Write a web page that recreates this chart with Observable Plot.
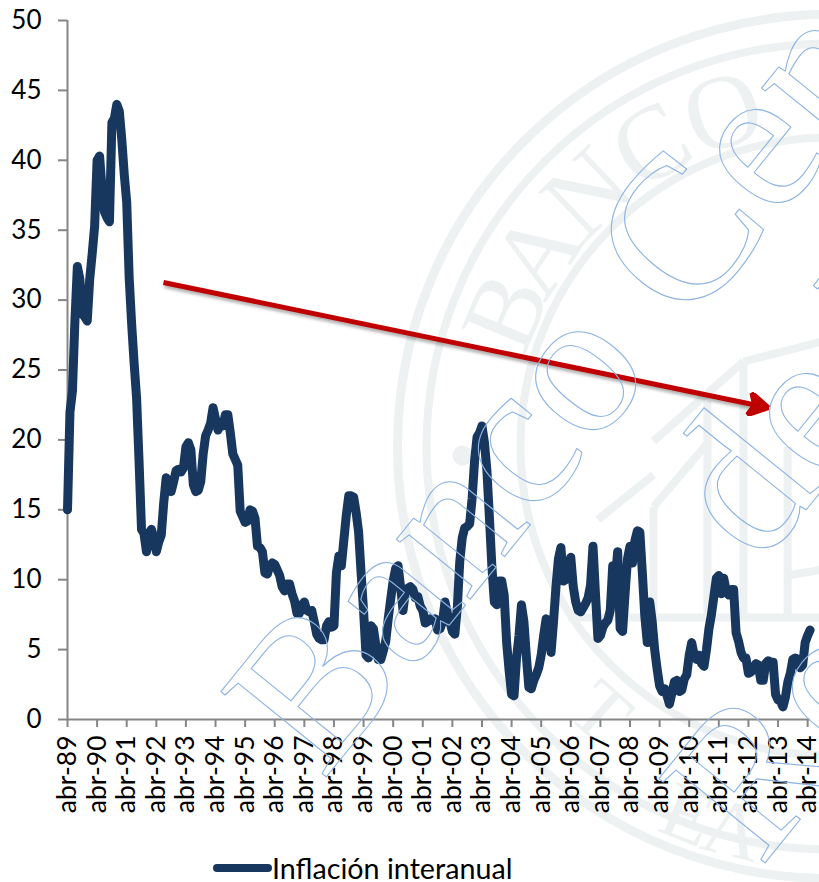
<!DOCTYPE html>
<html lang="es">
<head>
<meta charset="utf-8">
<script src="https://cdn.jsdelivr.net/npm/d3@7"></script>
<script src="https://cdn.jsdelivr.net/npm/@observablehq/plot@0.6"></script>
<style>
  html, body { margin: 0; padding: 0; background: #fff; overflow: hidden; }
  #chart { width: 819px; height: 882px; position: relative; overflow: hidden; }
  #legend { position: absolute; left: 213px; top: 850px; display: flex; align-items: center;
            font: 28.7px Lato, sans-serif; color: #000; line-height: 36px; }
  #legend .swatch { display: inline-block; width: 59px; height: 8px; border-radius: 4px; background: #17375E; }
</style>
</head>
<body>
<div id="chart"></div>
<script>
const seriesName = "Inflación interanual";
const tickYears = ["89","90","91","92","93","94","95","96","97","98","99","00","01","02","03","04","05","06","07","08","09","10","11","12","13","14"];
const tickLabels = tickYears.map(y => "abr-" + y);
const yTicks = [0,5,10,15,20,25,30,35,40,45,50];

// Inflación interanual, monthly from April 1989
const inflation = [
  15,22,23.5,28.5,32.4,31.5,29,28.8,28.5,31.5,33.3,35.3,
  40,40.3,38,36.3,35.9,35.6,42.7,43,44,43.5,41.5,39,
  37,31.6,28.3,25.5,23,18.5,13.6,13.3,12,13,13.6,13,
  12,12.7,13.2,15.5,17.3,16.8,16.3,17,17.8,17.9,17.7,18,
  19.5,19.8,19.3,16.8,16.3,16.4,17,19,20.3,20.7,21.2,22.3,
  21.5,20.7,21.2,21,21.8,21.8,20.5,19,18.6,18.2,14.9,14.5,
  14.1,14.2,15,14.9,14.4,12.4,12.3,12,10.5,10.4,11,11.2,
  11.1,10.7,10.3,9.5,9.2,9.7,9.7,9,8.5,7.6,7.6,8.2,
  8.4,7.8,7.7,7.8,7,6.1,5.8,5.7,5.7,6.7,7,6.6,
  6.7,10.5,11.7,11,12.8,14.6,16,16,15.9,14.8,13.4,10.5,
  7.8,4.6,4.4,6.7,6.5,5.3,4.3,4.3,4.9,5.6,7.2,8.6,
  9.9,10.8,11,9.5,7.8,9.2,9.4,9.5,9.3,8.7,8.8,8.1,
  7.8,6.9,7,7.2,7.1,7.2,6.4,6.5,7,8.4,7.6,7,
  6.3,6.1,8,11.3,13,13.7,13.8,14,15.8,18.5,20.2,20.5,
  21,19.8,17.8,14.5,11,8.4,8.2,9.9,9.9,8.9,5.5,3.5,
  1.8,1.7,4.4,6,8.2,7,4.5,2.3,2.2,2.8,3.2,3.7,
  4.6,6,7.2,7,4.8,7,9.5,11.5,12.3,9.9,10,11,
  11.6,9.5,8.4,7.8,7.7,8,8.3,8.7,9.6,12.4,9,5.8,
  6,6.6,6.9,7.1,7.8,11,10,12,6.5,6.3,9,11.5,
  12.4,11.2,12.8,13.5,13.4,10.5,7.4,5.5,8.4,7,5,3.6,
  2.4,2,2.2,1.7,1.1,1.9,2.7,2.8,2,2.1,2.9,3.2,
  4.6,5.5,4.6,4.3,4.6,4,3.8,5,6.5,7.5,8.8,10.1,
  10.3,9,10.1,9.2,8.9,9.3,9.3,6.2,5.6,4.8,4.4,4.4,
  3.3,3.4,3.6,4,3.9,2.8,2.8,4,4.2,4.1,4.1,1.8,
  1.4,1.3,0.9,1.6,2.7,3.3,4.3,4.4,4.3,3.7,3.9,5.5,
  6,6.4
];
const monthIndex = inflation.map((_, i) => i);
const tickMonths = tickLabels.map((_, i) => i * 12);

// Falling trend drawn over the series (start and end, in months and percent)
const trendMonths = [38.9, 279.7];
const trendValues = [31.26, 22.46];

// Seal watermark behind the chart
const sealRings = [[432, 9], [403, 8], [309, 8]];
const sealLetters = ["B","A","N","C","O"];
const sealAngles = [22.6, 33.5, 46.3, 59.4, 72.3];
const watermarkWords = ["Banco Central", "de Reserva", "Reserva"];

const grey = "#EDF1F1", axisGrey = "#868686", navy = "#17375E", outline = "#8DB3E2";
const ml = 67, mt = 20, cx = 829, cy = 446;

const letterMarks = sealLetters.map((s, i) => {
  const a = sealAngles[i] * Math.PI / 180;
  return Plot.text([s], {frameAnchor: "top-left", dx: cx - 350 * Math.cos(a) - ml, dy: cy - 350 * Math.sin(a) - mt,
    rotate: sealAngles[i] - 90, fontSize: 105, fontFamily: "Liberation Serif", fill: grey, lineAnchor: "middle", textAnchor: "middle"});
});
const bottomLetters = [["T", 600, 712, 42], ["E", 687, 815, 22], ["A", 732, 830, 14]].map(([s, x, y, r]) =>
  Plot.text([s], {frameAnchor: "top-left", dx: x - ml, dy: y - mt, rotate: r, fontSize: 80, fontFamily: "Liberation Serif", fill: grey, lineAnchor: "middle", textAnchor: "middle"}));

const ringMarks = sealRings.map(([r, w]) =>
  Plot.dot([0], {frameAnchor: "top-left", dx: cx - ml, dy: cy - mt, r, fill: "none", stroke: grey, strokeWidth: w}));

// Building of the seal, in chart units
const bldX1 = [237.5, 259.4, 274, 291.9, 203, 291.9, 215, 237.5, 237.5, 274];
const bldY1 = [15.2, 22.8, 25.6, 19.5, 7.3, 10.3, 14.3, 15.2, 19.9, 25.6];
const bldX2 = [237.5, 259.4, 274, 291.9, 305, 305, 237.5, 260, 274, 305];
const bldY2 = [7.3, 7.3, 7.3, 7.3, 7.3, 10.7, 17.5, 19.9, 25.6, 27];
const buildingIdx = bldX1.map((_, i) => i);

function stealth(color) {
  const m = d3.create("svg:marker")
    .attr("viewBox", "-12 -12 24 24").attr("markerWidth", 24).attr("markerHeight", 24)
    .attr("markerUnits", "userSpaceOnUse").attr("orient", "auto").attr("refX", 0).attr("refY", 0);
  m.append("path").attr("d", "M-8,-11 L11,0 L-8,11 L-3,0 Z").attr("fill", color);
  return m.node();
}

const trendOpts = {x1: () => trendMonths[0], y1: () => trendValues[0], x2: () => trendMonths[1], y2: () => trendValues[1], strokeWidth: 5};
const trendShadow = Plot.link([0], {...trendOpts, stroke: "#000", strokeOpacity: 0.3, dx: 1, dy: 3});
const trend = Plot.link([0], {...trendOpts, stroke: "#C00000", markerEnd: stealth});

const outlineText = (word, x, y) => Plot.text([word], {frameAnchor: "top-left", dx: x - ml, dy: y - mt, rotate: -51, textAnchor: "start", lineAnchor: "bottom",
  fontSize: 207, fontFamily: "Liberation Serif", fill: "none", stroke: outline, strokeWidth: 1.1});

const plot = Plot.plot({
  width: 819, height: 845,
  marginLeft: ml, marginRight: 9.4, marginTop: mt, marginBottom: 845 - 719,
  style: {overflow: "visible", background: "transparent", fontFamily: "Lato, sans-serif", color: "#000"},
  x: {type: "linear", domain: [0, 301], axis: null},
  y: {domain: [0, 50], axis: null},
  marks: [
    ...ringMarks,
    ...letterMarks,
    ...bottomLetters,
    Plot.dot([0], {frameAnchor: "top-left", dx: 462 - ml, dy: 455 - mt, r: 10, fill: grey}),
    Plot.link(buildingIdx, {x1: i => bldX1[i], y1: i => bldY1[i], x2: i => bldX2[i], y2: i => bldY2[i], stroke: grey, strokeWidth: 8}),
    Plot.ruleX([0], {stroke: axisGrey, strokeWidth: 2}),
    Plot.ruleY([0], {stroke: axisGrey, strokeWidth: 2}),
    Plot.axisY({ticks: yTicks, tickSize: 9, tickPadding: 17, stroke: axisGrey, strokeWidth: 2, fontSize: 26, fill: "#000", tickFormat: d => d, label: null, anchor: "left"}),
    Plot.axisX({ticks: tickMonths, tickSize: 8, tickPadding: 8, stroke: axisGrey, strokeWidth: 2, fontSize: 26.5, fill: "#000", tickRotate: -90,
      tickFormat: d => tickLabels[d / 12], label: null, anchor: "bottom"}),
    Plot.line(monthIndex, {x: i => i, y: i => inflation[i], stroke: navy, strokeWidth: 9, strokeLinejoin: "round", strokeLinecap: "round"}),
    trendShadow,
    trend,
    outlineText(watermarkWords[0], 322, 781),
    outlineText(watermarkWords[1], 759, 567),
    outlineText(watermarkWords[2], 760, 868)
  ]
});
d3.select(plot).selectAll('g[stroke="#000"], g[stroke="black"]')
  .filter(function () { return this.getAttribute("aria-label") === "link"; })
  .style("filter", "blur(1.5px)");

const chart = document.getElementById("chart");
chart.appendChild(plot);
const legend = document.createElement("div");
legend.id = "legend";
legend.innerHTML = '<span class="swatch"></span><span></span>';
legend.lastChild.textContent = seriesName;
chart.appendChild(legend);
</script>
</body>
</html>
